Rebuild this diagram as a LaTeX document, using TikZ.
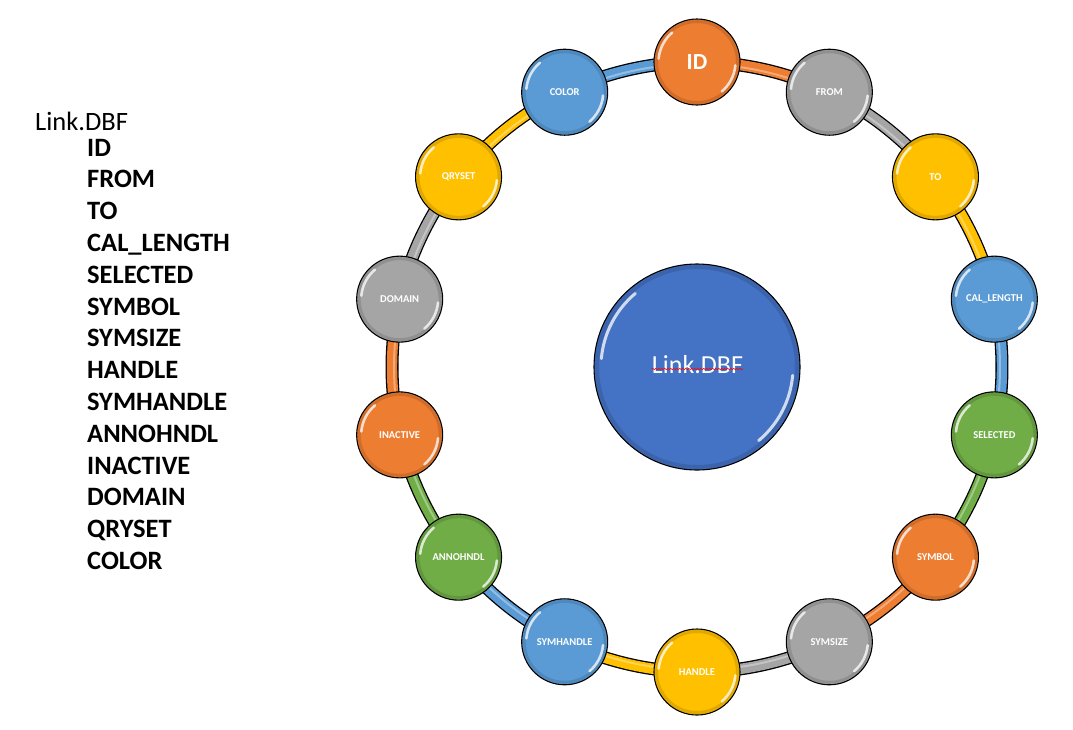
\documentclass[tikz,border=0pt]{standalone}
\usepackage{fontspec}
\setmainfont{Carlito}
\usetikzlibrary{decorations.pathmorphing}
\definecolor{corange}{HTML}{ED7D31}
\definecolor{cgray}{HTML}{A5A5A5}
\definecolor{cyellow}{HTML}{FFC000}
\definecolor{cblue}{HTML}{5B9BD5}
\definecolor{cgreen}{HTML}{70AD47}
\definecolor{cdark}{HTML}{4472C4}
\tikzset{
  ball/.style={circle, draw=black, line width=1.1pt, minimum size=86pt, inner sep=0pt,
    text=white, font=\bfseries\fontsize{10.5}{12}\selectfont},
  hub/.style={circle, draw=black, line width=1.1pt, fill=cdark, minimum size=206pt, inner sep=0pt},
  gloss/.style={white, line width=2.6pt, opacity=0.75, line cap=round},
  bevel/.style={black, line width=3pt, opacity=0.12},
  listhead/.style={anchor=base west, inner sep=0pt, font=\fontsize{26.5}{30}\selectfont},
  listitem/.style={anchor=base west, inner sep=0pt, font=\bfseries\fontsize{26.5}{30}\selectfont},
  ringout/.style={black, line width=13pt},
  ringin/.style={line width=10.4pt},
  ringhi/.style={white, line width=2pt, opacity=0.35}
}
\begin{document}
\begin{tikzpicture}[x=1pt,y=-1pt]
\useasboundingbox (0,0) rectangle (1073,729);
\fill[white] (0,0) rectangle (1073,729);
% left list
\node[listhead] (lh) at (35,130) {Link.DBF};
\foreach \t [count=\i from 0] in {ID,FROM,TO,CAL\_LENGTH,SELECTED,SYMBOL,SYMSIZE,HANDLE,SYMHANDLE,ANNOHNDL,INACTIVE,DOMAIN,QRYSET,COLOR}
  \node[listitem] (l\i) at (87,{156+\i*31.8}) {\t};
% ring positions and arcs
\foreach \col [count=\i from 0] in {corange,cgray,cyellow,cblue,cgreen,corange,cgray,cyellow,cblue,cgreen,corange,cgray,cyellow,cblue}{
  \pgfmathsetmacro\a{-90+\i*360/14}
  \pgfmathsetmacro\b{-90+(\i+1)*360/14}
  \coordinate (p\i) at ({697+305*cos(\a)},{367+305*sin(\a)});
  \draw[ringout] (p\i) arc[start angle=\a, end angle=\b, radius=305];
  \draw[ringin, draw=\col] (p\i) arc[start angle=\a, end angle=\b, radius=305];
  \draw[ringhi] ([shift={(\a:-2)}]p\i) arc[start angle=\a, end angle=\b, radius=303];
}
% balls
\foreach \t/\col [count=\i from 0] in {ID/corange,FROM/cgray,TO/cyellow,CAL\_LENGTH/cblue,SELECTED/cgreen,SYMBOL/corange,SYMSIZE/cgray,HANDLE/cyellow,SYMHANDLE/cblue,ANNOHNDL/cgreen,INACTIVE/corange,DOMAIN/cgray,QRYSET/cyellow,COLOR/cblue}{
  \ifnum\i=0
    \node[ball, fill=\col, font=\bfseries\fontsize{23}{27}\selectfont] (n\i) at (p\i) {\t};
  \else
    \node[ball, fill=\col] (n\i) at (p\i) {\t};
  \fi
  \draw[bevel] (n\i.center) circle[radius=40.5];
  \draw[gloss] ([shift={(185:38.5)}]n\i.center) arc[start angle=185, end angle=230, radius=38.5];
  \draw[gloss] ([shift={(5:38.5)}]n\i.center) arc[start angle=5, end angle=50, radius=38.5];
}
% hub
\node[hub] (hub) at (697,367) {};
\draw[bevel, line width=4pt] (hub.center) circle[radius=100];
\draw[gloss, line width=3pt] ([shift={(185:96)}]hub.center) arc[start angle=185, end angle=230, radius=96];
\draw[gloss, line width=3pt] ([shift={(5:96)}]hub.center) arc[start angle=5, end angle=50, radius=96];
\node[text=white, font=\fontsize{26}{30}\selectfont, anchor=base, inner sep=0pt] (hubtxt) at (697.5,373) {Link.DBF};
\draw[red, line width=0.6pt, decorate, decoration={snake, amplitude=0.8pt, segment length=3pt}]
  ([yshift=4pt]hubtxt.base west) -- ([yshift=4pt]hubtxt.base east);
\end{tikzpicture}
\end{document}
